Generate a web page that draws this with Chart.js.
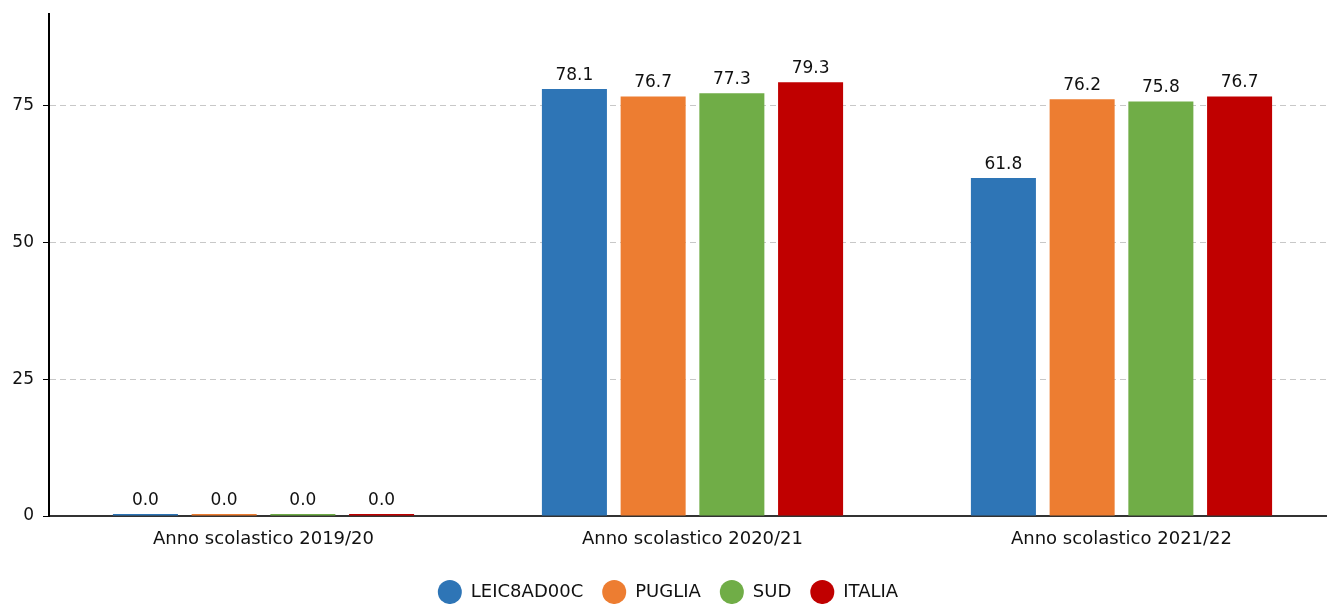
<!DOCTYPE html>
<html>
<head>
<meta charset="utf-8">
<script src="https://cdn.jsdelivr.net/npm/chart.js@4/dist/chart.umd.min.js"></script>
<style>
  html, body { margin: 0; padding: 0; background: #fff; overflow: hidden; }
  #wrap { width: 1336px; height: 604px; }
</style>
</head>
<body>
<div id="wrap"><canvas id="chart"></canvas></div>
<script>
// categories and series
const anni = ['Anno scolastico 2019/20', 'Anno scolastico 2020/21', 'Anno scolastico 2021/22'];
const leic = [0.0, 78.1, 61.8];
const puglia = [0.0, 76.7, 76.2];
const sud = [0.0, 77.3, 75.8];
const italia = [0.0, 79.3, 76.7];
const yTicks = [0, 25, 50, 75];

const FONT = 'DejaVu Sans';

// draws value above each bar
const valueLabels = {
  id: 'valueLabels',
  afterDatasetsDraw(chart) {
    const ctx = chart.ctx;
    ctx.save();
    ctx.font = '17px ' + FONT;
    ctx.fillStyle = '#111';
    ctx.textAlign = 'center';
    ctx.textBaseline = 'bottom';
    chart.data.datasets.forEach((ds, i) => {
      chart.getDatasetMeta(i).data.forEach((bar, j) => {
        ctx.fillText(ds.data[j].toFixed(1), bar.x, bar.y - 5);
      });
    });
    ctx.restore();
  }
};

function ds(label, data, color) {
  return {
    label: label,
    data: data,
    backgroundColor: color,
    borderWidth: 0,
    minBarLength: 2,
    categoryPercentage: 0.734,
    barPercentage: 0.826
  };
}

var ctx = document.getElementById('chart').getContext('2d');
var myChart = new Chart(ctx, {
  type: 'bar',
  data: {
    labels: anni,
    datasets: [
      ds('LEIC8AD00C', leic, '#2e75b6'),
      ds('PUGLIA', puglia, '#ed7d31'),
      ds('SUD', sud, '#70ad47'),
      ds('ITALIA', italia, '#c00000')
    ]
  },
  options: {
    responsive: true,
    maintainAspectRatio: false,
    animation: false,
    layout: { padding: { top: 14, right: 0, left: 0, bottom: -7 } },
    plugins: {
      tooltip: { enabled: false },
      legend: {
        position: 'bottom',
        labels: {
          usePointStyle: true,
          pointStyle: 'circle',
          pointStyleWidth: 24,
          boxHeight: 17,
          padding: 19,
          color: '#111',
          font: { family: FONT, size: 18 }
        }
      }
    },
    scales: {
      x: {
        afterFit: axis => { axis.height = 48; },
        grid: { display: false, drawTicks: false },
        border: { display: true, color: '#333', width: 2 },
        ticks: { color: '#111', padding: 13, font: { family: FONT, size: 18 } }
      },
      y: {
        min: 0,
        max: 91.8,
        afterBuildTicks: axis => {
          axis.ticks = yTicks.map(v => ({ value: v }));
        },
        afterFit: axis => {
          axis.width = 49;
          axis.paddingTop = 0;
          axis.paddingBottom = 0;
        },
        grid: {
          color: '#c8c8c8',
          tickColor: '#000',
          tickLength: 6,
          tickBorderDash: [],
          drawOnChartArea: true
        },
        border: { display: true, color: '#000', width: 2, dash: [6, 4] },
        ticks: { color: '#111', padding: 9, font: { family: FONT, size: 17 } }
      }
    }
  },
  plugins: [valueLabels]
});
</script>
</body>
</html>
